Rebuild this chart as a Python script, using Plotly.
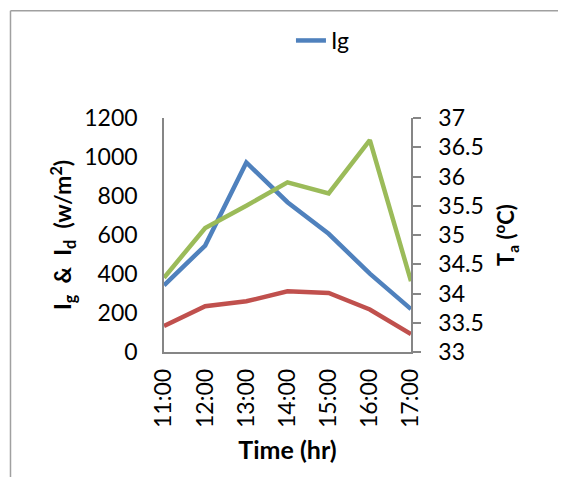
import plotly.graph_objects as go

times = ["11:00", "12:00", "13:00", "14:00", "15:00", "16:00", "17:00"]
ig = [342, 546, 972, 768, 606, 402, 220]
id_ = [133, 235, 260, 311, 303, 218, 92]
ta = [34.27, 35.12, 35.50, 35.90, 35.71, 36.62, 34.21]

font_family = "Lato, 'Open Sans', sans-serif"
axis_grey = "#868686"

fig = go.Figure()
fig.add_trace(go.Scatter(x=times, y=ig, mode="lines", name="Ig",
                         line=dict(color="#4F81BD", width=4.5)))
fig.add_trace(go.Scatter(x=times, y=id_, mode="lines", name="Id", showlegend=False,
                         line=dict(color="#C0504D", width=4.5)))
fig.add_trace(go.Scatter(x=times, y=ta, mode="lines", name="Ta", showlegend=False,
                         yaxis="y2", line=dict(color="#9BBB59", width=4.5)))

# outer chart frame (only top and left edges are in view)
fig.add_shape(type="line", xref="paper", yref="paper", x0=-0.6215, x1=-0.6215, y0=-0.6, y1=1.458,
              line=dict(color="#a0a0a0", width=1.5))
fig.add_shape(type="line", xref="paper", yref="paper", x0=-0.6215, x1=1.7, y0=1.458, y1=1.458,
              line=dict(color="#a0a0a0", width=1.5))

fig.update_layout(
    width=566, height=477,
    margin=dict(l=156, r=163, t=109, b=133),
    paper_bgcolor="white", plot_bgcolor="white",
    font=dict(family=font_family, size=23, color="black"),
    legend=dict(x=0.514, y=1.417, xanchor="left", yanchor="top",
                font=dict(size=23), bgcolor="rgba(0,0,0,0)"),
    xaxis=dict(
        type="category", tickangle=-90, showgrid=False, showline=True,
        linecolor=axis_grey, linewidth=1.5, ticks="", mirror=False,
        ticklabelstandoff=6,
        title=dict(text="<b>Time (hr)</b>", font=dict(size=25), standoff=14),
    ),
    yaxis=dict(
        range=[0, 1200], dtick=200, showgrid=False, zeroline=False,
        showline=True, linecolor=axis_grey, linewidth=1.5, ticks="",
        ticklabelstandoff=20,
        title=dict(text="<b>I<sub>g</sub>  &amp;  I<sub>d</sub>  (w/m<sup>2</sup>)</b>",
                   font=dict(size=23), standoff=6),
    ),
    yaxis2=dict(
        overlaying="y", side="right", range=[33, 37], dtick=0.5,
        showgrid=False, zeroline=False, showline=True, linecolor=axis_grey,
        linewidth=1.5, ticks="outside", ticklen=8, tickcolor=axis_grey, tickwidth=1.5,
        ticklabelstandoff=13,
        title=dict(text="<b>T<sub>a</sub> (<sup>o</sup>C)</b>", font=dict(size=22), standoff=16),
    ),
)

fig.write_html("out.html")
